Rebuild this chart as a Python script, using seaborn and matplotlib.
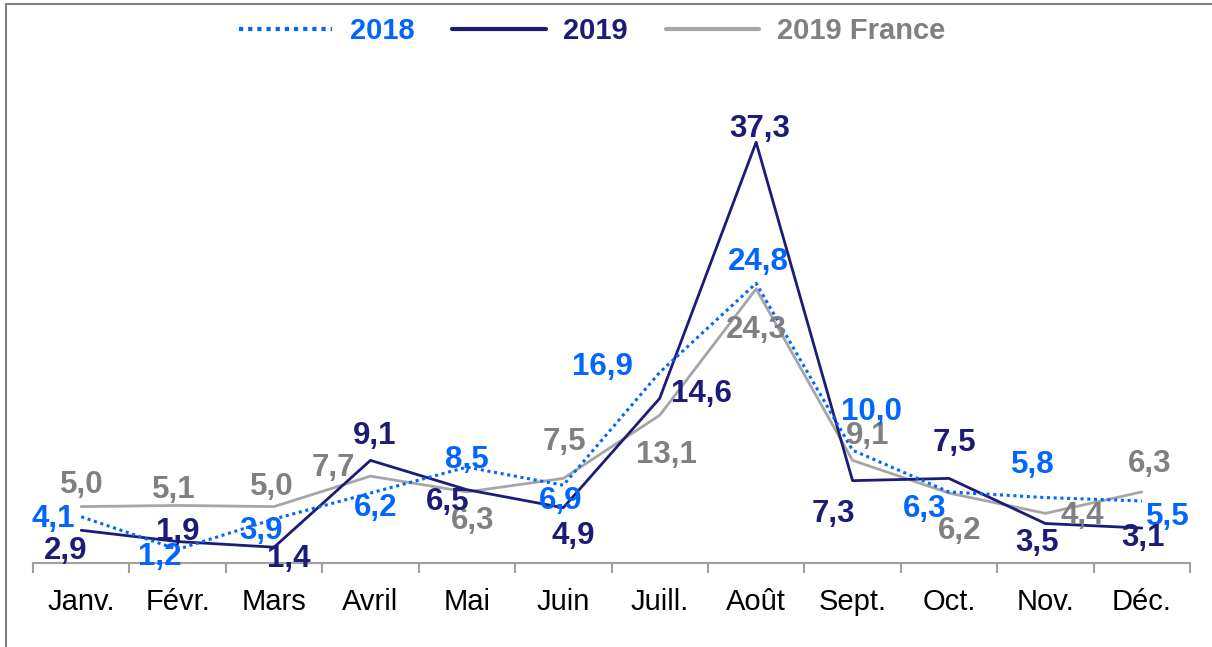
import numpy as np
import pandas as pd
import matplotlib
matplotlib.use("Agg")
import matplotlib.pyplot as plt
from matplotlib.lines import Line2D
import seaborn as sns

# Monthly values
mois = ["Janv.", "Févr.", "Mars", "Avril", "Mai", "Juin",
        "Juill.", "Août", "Sept.", "Oct.", "Nov.", "Déc."]
serie_2018 = [4.1, 1.2, 3.9, 6.2, 8.5, 6.9, 16.9, 24.8, 10.0, 6.3, 5.8, 5.5]
serie_2019 = [2.9, 1.9, 1.4, 9.1, 6.5, 4.9, 14.6, 37.3, 7.3, 7.5, 3.5, 3.1]
serie_france = [5.0, 5.1, 5.0, 7.7, 6.3, 7.5, 13.1, 24.3, 9.1, 6.2, 4.4, 6.3]
noms = ["2018", "2019", "2019 France"]

# Styling
BLEU = "#0066FF"
MARINE = "#1C1C78"
GRIS_LIGNE = "#A6A6A6"
GRIS_TEXTE = "#808080"

# Label offsets (pixels, x right / y down) for each point's value label
decal_2018 = [(-28, 2), (-18, 8), (-13, 12), (5, 15), (0, -7), (-3, 16),
              (-57, -5), (2, -21), (19, -38), (-24, 17), (-13, -33), (26, 16)]
decal_2019 = [(-16, 21), (0, -10), (15, 12), (4, -24), (-19, 12), (10, 28),
              (42, -4), (4, -13), (-19, 33), (5, -35), (-8, 19), (1, 10)]
decal_france = [(1, -22), (-4, -15), (-2, -20), (-37, -8), (6, 29), (1, -36),
                (7, 40), (0, 41), (15, -24), (11, 38), (37, 3), (8, -28)]

sns.set_theme(style="white")
plt.rcParams["font.family"] = ["Liberation Sans", "DejaVu Sans"]

W, H = 1212, 647
fig = plt.figure(figsize=(W / 100, H / 100), dpi=100)
ax = fig.add_axes([33 / W, (H - 563) / H, 1157 / W, 451.2 / H])

pos = np.arange(len(mois))
df = pd.DataFrame({
    "pos": np.tile(pos, 3),
    "valeur": serie_2018 + serie_2019 + serie_france,
    "serie": np.repeat(noms, len(mois)),
})

styles = {
    "2019 France": dict(color=GRIS_LIGNE, lw=2.0, ls="-", z=2),
    "2019": dict(color=MARINE, lw=2.0, ls="-", z=3),
    "2018": dict(color=BLEU, lw=2.2, ls=(0, (1, 1.2)), z=4),
}
for nom in ["2019 France", "2019", "2018"]:
    st = styles[nom]
    sns.lineplot(data=df[df["serie"] == nom], x="pos", y="valeur", ax=ax,
                 color=st["color"], linewidth=st["lw"], linestyle=st["ls"],
                 zorder=st["z"], sort=False, legend=False)

# Value labels
for vals, decs, col in [(serie_france, decal_france, GRIS_TEXTE),
                        (serie_2018, decal_2018, BLEU),
                        (serie_2019, decal_2019, MARINE)]:
    for i, (v, (dx, dy)) in enumerate(zip(vals, decs)):
        ax.annotate(f"{v:.1f}".replace(".", ","), xy=(i, v),
                    xytext=(dx, -dy), textcoords="offset pixels",
                    ha="center", va="center", fontsize=22.5,
                    fontweight="bold", color=col, zorder=6,
                    annotation_clip=False)

ax.set_xlim(-0.5, len(mois) - 0.5)
ax.set_ylim(0, 40)
ax.set_xlabel("")
ax.set_ylabel("")
ax.set_yticks([])
ax.set_xticks(pos)
ax.set_xticklabels(mois, fontsize=21, color="black")
ax.set_xticks(np.arange(-0.5, len(mois)), minor=True)
ax.tick_params(axis="x", which="major", length=0, pad=18)
ax.tick_params(axis="x", which="minor", length=7, width=1.5,
               color="#A0A0A0", bottom=True, direction="out")
for s in ["top", "right", "left"]:
    ax.spines[s].set_visible(False)
ax.spines["bottom"].set_color("#A0A0A0")
ax.spines["bottom"].set_linewidth(1.5)
ax.set_facecolor("none")

# Legend
handles = [
    Line2D([], [], color=BLEU, lw=3, ls=(0, (1, 1.2))),
    Line2D([], [], color=MARINE, lw=3, ls="-"),
    Line2D([], [], color=GRIS_LIGNE, lw=3, ls="-"),
]
leg = fig.legend(handles, noms, loc="center", bbox_to_anchor=(592 / W, 1 - 31 / H),
                 ncol=3, frameon=False, handlelength=3.2, handletextpad=0.6,
                 columnspacing=1.3, prop={"size": 21, "weight": "bold"})
for txt, col in zip(leg.get_texts(), [BLEU, MARINE, GRIS_TEXTE]):
    txt.set_color(col)

# Outer frame (top and left edges)
fig.add_artist(Line2D([6 / W, 6 / W], [0, 1 - 4 / H], color="#808080", lw=1.5,
                      transform=fig.transFigure))
fig.add_artist(Line2D([6 / W, 1], [1 - 4 / H, 1 - 4 / H], color="#808080", lw=1.5,
                      transform=fig.transFigure))

fig.savefig("out.png", dpi=100)
